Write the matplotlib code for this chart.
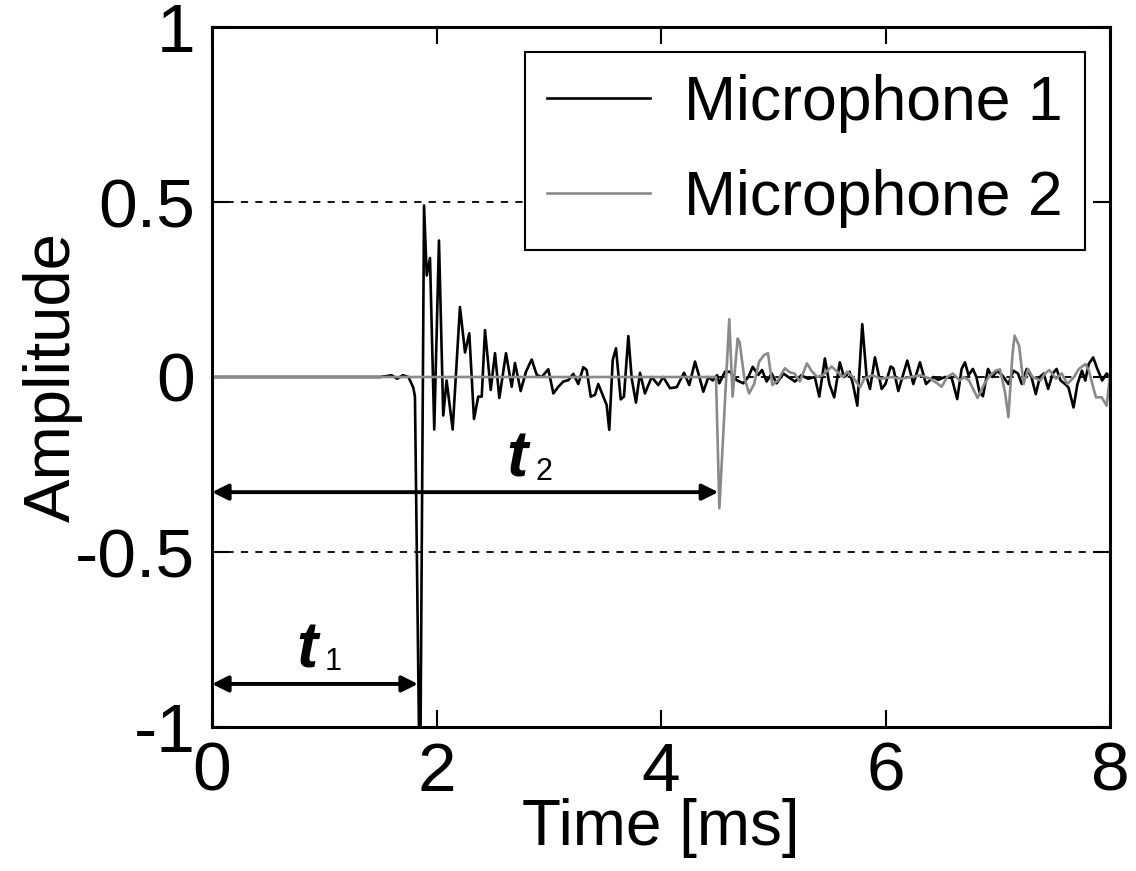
import matplotlib
matplotlib.use("Agg")
import matplotlib.pyplot as plt

plt.rcParams['font.family'] = ['Liberation Sans', 'DejaVu Sans']

# Microphone 1 trace (time in ms, amplitude)
mic1_t = [0.0, 1.50, 1.60, 1.65, 1.70, 1.75, 1.793, 1.808, 1.853, 1.889, 1.913, 1.942, 1.98,
          2.022, 2.06, 2.09, 2.144, 2.209, 2.254, 2.292, 2.334, 2.372, 2.403, 2.432, 2.483,
          2.521, 2.56, 2.619, 2.67, 2.699, 2.75, 2.797, 2.848, 2.893, 2.937, 2.996, 3.041,
          3.085, 3.130, 3.174, 3.219, 3.263, 3.308, 3.338, 3.374, 3.412, 3.441, 3.486, 3.516,
          3.539, 3.570, 3.599, 3.641, 3.670, 3.709, 3.739, 3.777, 3.813, 3.857, 3.917, 3.976,
          4.020, 4.080, 4.140, 4.205, 4.252, 4.303, 4.342, 4.377, 4.422, 4.46, 4.50, 4.519,
          4.57, 4.615, 4.674, 4.733, 4.778, 4.817, 4.867, 4.90, 4.941, 4.986, 5.03, 5.09,
          5.134, 5.194, 5.25, 5.31, 5.37, 5.41, 5.46, 5.50, 5.543, 5.593, 5.63, 5.67, 5.68,
          5.71, 5.749, 5.793, 5.832, 5.862, 5.906, 5.966, 6.00, 6.046, 6.07, 6.114, 6.16,
          6.194, 6.248, 6.307, 6.361, 6.426, 6.47, 6.53, 6.59, 6.639, 6.678, 6.708, 6.74,
          6.778, 6.81, 6.838, 6.868, 6.913, 6.95, 6.996, 7.04, 7.095, 7.14, 7.18, 7.214,
          7.258, 7.30, 7.339, 7.375, 7.41, 7.449, 7.49, 7.524, 7.56, 7.60, 7.63, 7.675, 7.71,
          7.75, 7.78, 7.81, 7.85, 7.885, 7.93, 7.97, 8.0]
mic1_a = [0.0, 0.0, 0.005, -0.005, 0.005, 0.0, -0.03, -0.056, -1.25, 0.49, 0.29, 0.34, -0.15,
          0.39, -0.11, -0.01, -0.15, 0.2, 0.07, 0.125, -0.12, -0.056, -0.056, 0.134, -0.037,
          0.068, -0.06, 0.068, -0.028, 0.04, -0.04, 0.015, 0.05, 0.006, 0.0, 0.022, -0.047,
          -0.028, -0.013, -0.009, 0.009, -0.02, 0.028, 0.02, -0.056, -0.051, -0.02, -0.056, -0.08,
          -0.151, 0.049, 0.082, -0.064, -0.056, 0.117, -0.004, -0.073, 0.012, -0.047, 0.0, -0.023,
          0.0, -0.032, -0.029, 0.012, -0.023, 0.044, 0.0, -0.042, 0.0, -0.01, 0.005, -0.018,
          0.015, 0.015, -0.009, -0.018, 0.0, 0.029, 0.006, 0.02, -0.013, 0.01, -0.018, 0.01,
          0.0, -0.013, 0.005, -0.005, 0.0, -0.056, 0.053, -0.02, -0.058, 0.042, 0.0, 0.01, 0.015,
          -0.02, -0.082, 0.151, 0.0, -0.034, 0.056, -0.034, -0.02, 0.03, 0.025, -0.04, 0.01,
          0.047, -0.02, 0.042, -0.02, 0.0, -0.008, 0.0, -0.003, -0.063, 0.023, 0.042, 0.005,
          0.023, 0.0, -0.044, -0.055, 0.023, 0.0, 0.018, 0.005, -0.02, 0.018, 0.01, -0.02,
          0.023, 0.0, -0.049, 0.0, 0.01, -0.034, 0.01, 0.023, -0.01, -0.02, -0.03, -0.087, -0.02,
          0.018, -0.01, 0.037, 0.056, 0.025, -0.01, 0.01, 0.0]

# Microphone 2 trace
mic2_t = [0.0, 4.49, 4.52, 4.608, 4.638, 4.683, 4.70, 4.741, 4.785, 4.83, 4.874, 4.919, 4.953,
          4.992, 5.04, 5.103, 5.15, 5.19, 5.237, 5.30, 5.34, 5.39, 5.44, 5.52, 5.57, 5.62, 5.66,
          5.71, 5.773, 5.81, 5.88, 5.96, 6.05, 6.14, 6.23, 6.31, 6.40, 6.46, 6.50, 6.55, 6.60,
          6.66, 6.70, 6.744, 6.82, 6.88, 6.92, 6.98, 7.02, 7.065, 7.095, 7.13, 7.15, 7.19, 7.23,
          7.27, 7.31, 7.38, 7.42, 7.46, 7.52, 7.57, 7.62, 7.68, 7.72, 7.78, 7.81, 7.845, 7.875,
          7.926, 7.97, 8.0]
mic2_a = [0.0, 0.0, -0.375, 0.165, -0.056, 0.11, 0.10, 0.0, -0.047, -0.02, 0.044, 0.063, 0.068,
          -0.023, -0.01, 0.025, 0.013, 0.01, -0.013, 0.039, 0.018, 0.0, 0.005, 0.03, 0.015, 0.0, 0.015,
          0.0, -0.03, -0.005, 0.005, -0.005, 0.0, -0.005, 0.0, 0.005, -0.005, -0.018, -0.028, 0.0, 0.01,
          -0.01, 0.0, -0.01, -0.06, -0.02, 0.0, 0.018, 0.022, -0.044, -0.115, 0.06, 0.118, 0.09, -0.02,
          0.023, 0.0, -0.01, 0.01, 0.02, -0.005, 0.01, -0.02, 0.0, 0.022, 0.037, 0.02, -0.023, -0.058,
          -0.058, -0.082, 0.005]

xticks = [0, 2, 4, 6, 8]
yticks = [-1, -0.5, 0, 0.5, 1]
ytick_labels = ['-1', '-0.5', '0', '0.5', '1']

t1_end = 1.835
t2_end = 4.51

fig = plt.figure(figsize=(11.36, 8.71), dpi=100)
fig.subplots_adjust(left=212/1136, right=1110/1136, top=1-27/871, bottom=1-727/871)
ax = fig.add_subplot(111)

ax.plot(mic1_t, mic1_a, color='black', lw=1.9, label='Microphone 1')
ax.plot(mic2_t, mic2_a, color='#8a8a8a', lw=1.9, label='Microphone 2')

ax.set_xlim(0, 8)
ax.set_ylim(-1, 1)
ax.set_xticks(xticks)
ax.set_xticklabels([str(v) for v in xticks])
ax.set_yticks(yticks)
ax.set_yticklabels(ytick_labels)
ax.tick_params(direction='in', length=12, width=1.5, labelsize=50, pad=12,
               top=True, right=True)
ax.tick_params(axis='x', pad=10)
ax.yaxis.grid(True, color='black', lw=1.3, linestyle=(0, (4, 4)))
for s in ax.spines.values():
    s.set_linewidth(2.2)

ax.set_xlabel('Time [ms]', fontsize=46)
ax.xaxis.set_label_coords(0.5, -0.102)
ax.set_ylabel('Amplitude', fontsize=47)
ax.yaxis.set_label_coords(-0.144, 0.5)

# time-of-arrival arrows
arrow = dict(arrowstyle='<|-|>', lw=2.8, color='black', mutation_scale=24,
             shrinkA=0, shrinkB=0)
ax.annotate('', xy=(t1_end, -0.877), xytext=(0, -0.877), arrowprops=arrow)
ax.annotate('', xy=(t2_end, -0.329), xytext=(0, -0.329), arrowprops=arrow)
ax.text(0.75, -0.829, 't', fontsize=46, fontstyle='italic', fontweight='bold', va='baseline')
ax.text(1.0, -0.837, '1', fontsize=22, va='baseline')
ax.text(2.62, -0.283, 't', fontsize=46, fontstyle='italic', fontweight='bold', va='baseline')
ax.text(2.88, -0.294, '2', fontsize=22, va='baseline')

leg = ax.legend(loc='upper right', bbox_to_anchor=(0.972, 0.964), borderaxespad=0,
                fontsize=45, fancybox=False, framealpha=1, edgecolor='black',
                handlelength=1.65, handletextpad=0.55, labelspacing=0.58, borderpad=0.35)
leg.get_frame().set_linewidth(1.5)

fig.savefig('out.png', dpi=100)
